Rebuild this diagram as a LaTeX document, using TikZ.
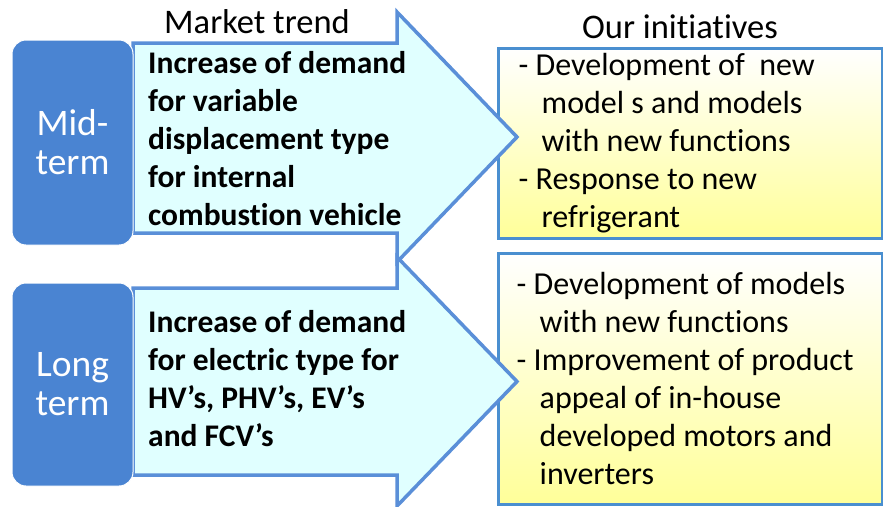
\documentclass[tikz,border=0pt]{standalone}
\usepackage{fontspec}
\setmainfont{Carlito}[Ligatures=NoCommon, Contextuals=NoAlternate]
\usetikzlibrary{positioning}

\definecolor{termblue}{HTML}{4A84D2}
\definecolor{arrowfill}{HTML}{E0FFFF}
\definecolor{arrowline}{HTML}{5A8FD8}
\definecolor{boxline}{HTML}{4A8FD0}
\definecolor{boxyellow}{HTML}{FFFF99}

\newcommand{\ind}{\hspace*{0.72em}}

\tikzset{
  term/.style={fill=termblue, draw=white, line width=1pt, rounded corners=14pt,
    text=white, font=\fontsize{37.5}{39}\selectfont, align=center,
    minimum width=121pt, inner sep=0pt},
  bigarrow/.style={fill=arrowfill, draw=arrowline, line width=3.5pt, line join=miter},
  trend/.style={font=\fontsize{31.5}{38}\selectfont\bfseries, align=left, anchor=west, inner sep=0pt},
  initbox/.style={draw=boxline, line width=3pt, top color=white, bottom color=boxyellow,
    minimum width=384pt, inner sep=0pt},
  inittext/.style={font=\fontsize{32}{38}\selectfont, align=left, anchor=west, inner sep=0pt},
  header/.style={font=\fontsize{34.5}{36}\selectfont, inner sep=0pt}
}

\begin{document}
\begin{tikzpicture}[x=1pt, y=-1pt]
    \useasboundingbox (0,0) rectangle (883,506);

    % initiative boxes (behind the arrow tips)
    \node[initbox, minimum height=190pt] (ini1) at (690,143) {};
    \node[initbox, minimum height=251pt] (ini2) at (690,378.5) {};

    % market trend arrows
    \draw[bigarrow] (133,43) -- (397,43) -- (397,12) -- (517,137)
      -- (397,262) -- (397,233) -- (133,233) -- cycle;
    \draw[bigarrow] (133,288) -- (397,288) -- (397,257) -- (517,381.5)
      -- (397,506) -- (397,475) -- (133,475) -- cycle;

    \node[term, minimum height=205pt] (mid) at (72.5,142.5) {Mid-\\term};
    \node[term, minimum height=203pt] (long) at (72.5,384.5) {Long\\term};

    \node[header] (market) at (257,22) {Market trend};
    \node[header] (ours) at (680,27) {Our initiatives};

    \node[trend] (trend1) at (148,139) {Increase of demand\\for variable\\displacement type\\for internal\\combustion vehicle};
    \node[trend] (trend2) at (148,379) {Increase of demand\\for electric type for\\HV’s, PHV’s, EV’s\\and FCV’s};

    \node[inittext, right=22pt of ini1.west] (text1) {- Development of\ \ new\\\ind model s and models\\\ind with new functions\\- Response to new\\\ind refrigerant};
    \node[inittext, right=20pt of ini2.west] (text2) {- Development of models\\\ind with new functions\\- Improvement of product\\\ind appeal of in-house\\\ind developed motors and\\\ind inverters};
\end{tikzpicture}
\end{document}
